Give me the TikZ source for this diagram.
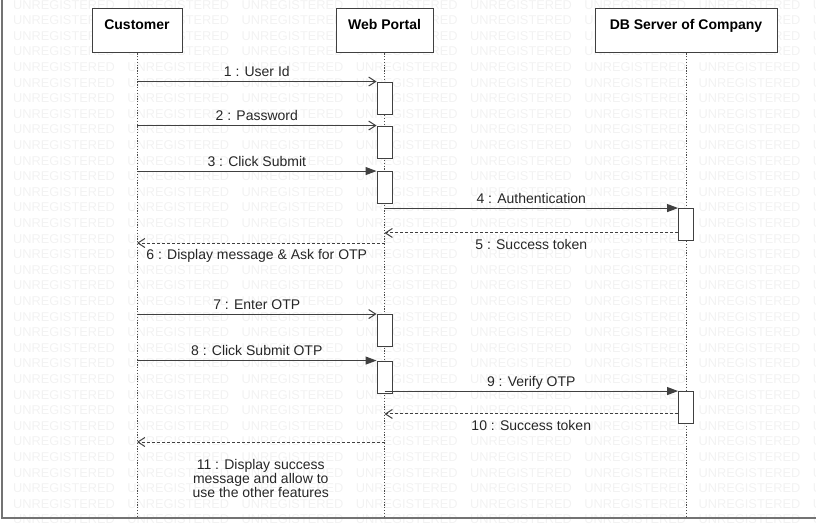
\documentclass[tikz,border=0pt]{standalone}
\usepackage{fontspec}
\setmainfont{Liberation Sans}
\usetikzlibrary{arrows.meta}

\begin{document}
\begin{tikzpicture}
  [x=1pt,y=-1pt,font=\fontsize{14}{14}\selectfont,
   wmtext/.style={anchor=west,inner sep=0pt,text=black!5,font=\fontsize{12.8}{12.8}\selectfont},
   actor/.style={draw=black!75,line width=1pt,fill=white,minimum height=44pt,
                 text height=10pt,text depth=12pt,font=\fontsize{14}{14}\selectfont\bfseries},
   bar/.style={draw=black!75,line width=0.9pt,fill=white,minimum width=15pt,minimum height=32pt,inner sep=0pt},
   life/.style={black!70,line width=0.9pt,dash pattern=on 1.2pt off 1.6pt},
   send/.style={black!75,line width=1pt,-{Straight Barb[length=7pt,width=9pt]}},
   call/.style={black!75,line width=1pt,-{Triangle[length=11pt,width=8pt]}},
   reply/.style={black!75,line width=1pt,dash pattern=on 3pt off 2pt,-{Straight Barb[length=7pt,width=9pt]}},
   msg/.style={inner sep=0pt,text=black!85},
   oneline/.style={msg,text height=10pt,text depth=0pt}]
    \useasboundingbox (0,0) rectangle (816,527);

    % watermark
    \begin{scope}
      \clip (0,0) rectangle (816,527);
      \foreach \j in {0,...,7}
        \foreach \k in {0,...,33}
          \node (wm\j-\k) [wmtext] at ({13+114.25*\j},{4.6+15.6*\k}) {UNREGISTERED};
    \end{scope}

    \draw[black!55,line width=1.5pt] (2,0) -- (2,518) -- (816,518);

    \node (cust) [actor,minimum width=90pt]  at (137,31)   {Customer};
    \node (web)  [actor,minimum width=97pt]  at (384.5,31) {Web Portal};
    \node (db)   [actor,minimum width=182pt] at (686,31)   {DB Server of Company};
    \coordinate (bottom) at (0,518);

    \foreach \p in {cust,web,db}
      \draw[life] (\p.south) -- (\p.south |- bottom);

    \node (b1) [bar] at (384.5,98)    {};
    \node (b2) [bar] at (384.5,142)   {};
    \node (b3) [bar] at (384.5,187.5) {};
    \node (d1) [bar] at (686,224.5)   {};
    \node (b4) [bar] at (384.5,330.5) {};
    \node (b5) [bar] at (384.5,377)   {};
    \node (d2) [bar] at (686,407.5)   {};

    \foreach \to/\txt in {b1/1 : User Id,b2/2 : Password,b4/7 : Enter OTP}
      \draw[send] (cust |- \to.north west) -- (\to.north west)
        node[oneline,midway,above=4.5pt] (l\to) {\txt};

    \foreach \from/\to/\txt in {cust/b3/3 : Click Submit,cust/b5/8 : Click Submit OTP,
                                web/d1/4 : Authentication,web/d2/9 : Verify OTP}
      \draw[call] (\from |- \to.north west) -- (\to.north west)
        node[oneline,midway,above=4.5pt] (l\to) {\txt};

    \coordinate (r5)  at ([yshift=8pt]d1.south west);
    \coordinate (r10) at ([yshift=10pt]d2.south west);
    \coordinate (r6)  at (384.5,243);
    \coordinate (r11) at (384.5,442);

    \draw[reply] (r5) -- (web |- r5) node[oneline,midway,below=6pt] (l5) {5 : Success token};
    \draw[reply] (r6) -- (cust |- r6) node[oneline,midway,below=6pt,xshift=-4pt] (l6) {6 : Display message \& Ask for OTP};
    \draw[reply] (r10) -- (web |- r10) node[oneline,midway,below=6pt] (l10) {10 : Success token};
    \draw[reply] (r11) -- (cust |- r11) node[msg,midway,below=17pt,align=center] (l11)
      {11 : Display success\\message and allow to\\use the other features};
  \end{tikzpicture}
\end{document}
